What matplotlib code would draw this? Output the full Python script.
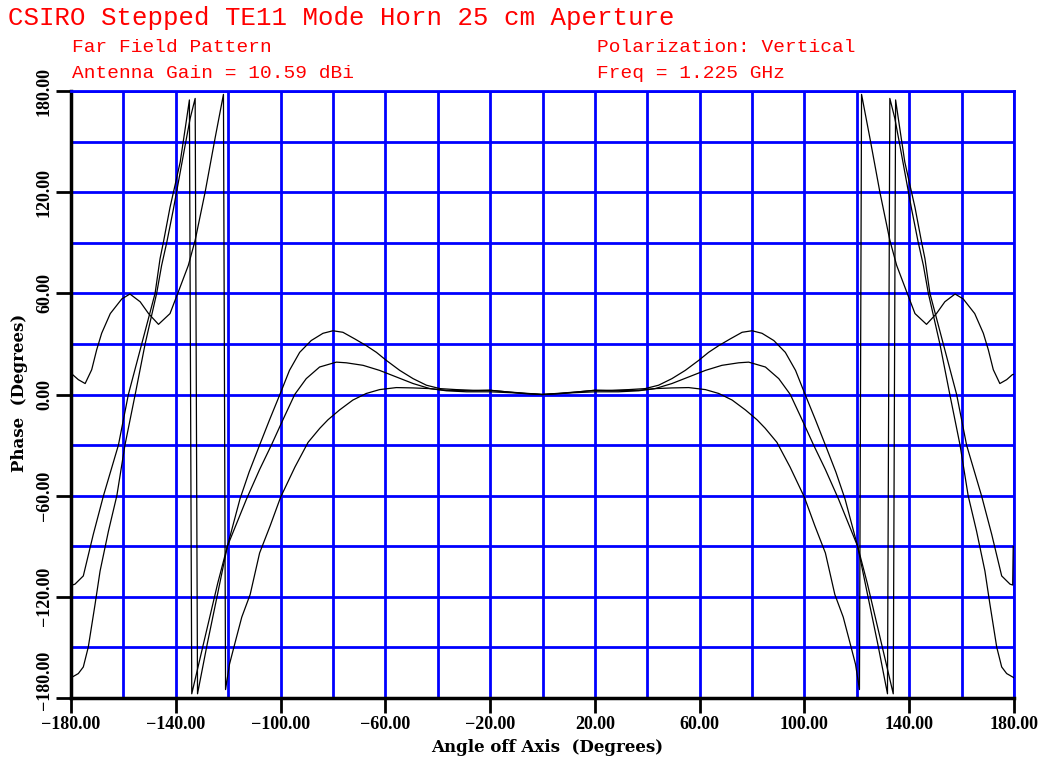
import matplotlib
matplotlib.use("Agg")
import matplotlib.pyplot as plt
import matplotlib.transforms as mtransforms

# Far field phase, three cuts (degrees off axis, phase in degrees)
a_deg = [-180, -177.2, -175.3, -173.4, -170.8, -168.9, -165.7, -162.5, -159.4, -155.5,
         -151.7, -147.3, -145.4, -143.4, -140.9, -139.0, -136.4, -134.5, -132.6, -131.7,
         -128.0, -124.0, -120.3, -115.5, -112.0, -108.0, -104.2, -100.0, -96.6, -92.7,
         -88.3, -83.8, -80.0, -76.2, -71.7, -67.3, -63.4, -59.6, -54.5, -49.4,
         -44.3, -39.2, -32.9, -26.5, -20.0, -13.8, -7.4, 0,
         7.4, 13.8, 20.0, 26.5, 32.9, 39.2, 44.3, 49.4, 54.5, 59.6,
         63.4, 67.3, 71.7, 76.2, 80.0, 83.8, 88.3, 92.7, 96.6, 100.0,
         104.2, 108.0, 112.0, 115.5, 120.3, 124.0, 128.0, 131.7, 132.6, 134.5,
         136.4, 139.0, 140.9, 143.4, 145.4, 147.3, 151.7, 155.5, 159.4, 162.5,
         165.7, 168.9, 170.8, 173.4, 175.3, 177.2, 180]
a_phase = [-168, -165.5, -161.6, -149.8, -124.3, -104.7, -81, -60, -30, 0,
           30, 60, 76.6, 90.5, 110, 126, 148, 163.8, 175.6, -177.5,
           -148, -118, -90, -62, -46, -30, -15, 1, 14.3, 25,
           32, 36.3, 37.8, 36.9, 33, 29, 25, 20.2, 14.3, 9.4,
           5.5, 3.5, 2.9, 2.5, 2.5, 1.6, 0.6, 0,
           0.6, 1.6, 2.5, 2.5, 2.9, 3.5, 5.5, 9.4, 14.3, 20.2,
           25, 29, 33, 36.9, 37.8, 36.3, 32, 25, 14.3, 1,
           -15, -30, -46, -62, -90, -118, -148, -177.5, 175.6, 163.8,
           148, 126, 110, 90.5, 76.6, 60, 30, 0, -30, -60,
           -81, -104.7, -124.3, -149.8, -161.6, -165.5, -168]

b_deg = [-180, -179.6, -179.5, -178.5, -175.3, -171.5, -167.6, -161.9, -158.1, -153.0,
         -147.9, -146.0, -144.7, -142.2, -140.3, -138.3, -136.4, -134.8, -133.9, -129.0,
         -124.0, -120.3, -113.0, -108.0, -103.5, -99.1, -94.6, -90.2, -85.1, -78.7,
         -74.9, -68.5, -62.2, -55.8, -49.4, -43.0, -36.7, -26.5, -20.0, -13.8, 0,
         13.8, 20.0, 26.5, 36.7, 43.0, 49.4, 55.8, 62.2, 68.5, 74.9,
         78.7, 85.1, 90.2, 94.6, 99.1, 103.5, 108.0, 113.0, 120.3, 124.0,
         129.0, 133.9, 134.8, 136.4, 138.3, 140.3, 142.2, 144.7, 146.0, 147.9,
         153.0, 158.1, 161.9, 167.6, 171.5, 175.3, 178.5, 179.5, 179.7]
b_phase = [0, -44, -113, -112.5, -107.6, -83, -60, -30, 0, 30,
           60, 80.6, 90.5, 111, 124, 138, 157.8, 174.7, -177.5, -145,
           -112, -90, -62, -44.5, -30, -15, 0, 9.4, 16.3, 19.2,
           18.8, 17.3, 14.3, 10.4, 6.5, 3.5, 2.5, 2.2, 2.5, 1.6, 0,
           1.6, 2.5, 2.2, 2.5, 3.5, 6.5, 10.4, 14.3, 17.3, 18.8,
           19.2, 16.3, 9.4, 0, -15, -30, -44.5, -62, -90, -112,
           -145, -177.5, 174.7, 157.8, 138, 124, 111, 90.5, 80.6, 60,
           30, 0, -30, -60, -83, -107.6, -112.5, -113, -90]

c_deg = [-180, -179.4, -177.2, -174.6, -172.1, -170.2, -168.3, -165.0, -160.6, -157.5,
         -153.6, -150.4, -146.6, -142.2, -139.0, -135.2, -132.6, -128.8, -125.0, -121.8,
         -121.0, -119.5, -117.0, -114.8, -111.6, -108.0, -104.0, -100.0, -94.5, -89.5,
         -85.0, -81.9, -77.5, -72.4, -67.3, -62.2, -55.8, -49.4, -43.0, -36.7,
         -29.0, -20.0, -11.2, 0,
         11.2, 20.0, 29.0, 36.7, 43.0, 49.4, 55.8, 62.2, 67.3, 72.4,
         77.5, 81.9, 85.0, 89.5, 94.5, 100.0, 104.0, 108.0, 111.6, 114.8,
         117.0, 119.5, 121.0, 121.8, 125.0, 128.8, 132.6, 135.2, 139.0, 142.2,
         146.6, 150.4, 153.6, 157.5, 160.6, 165.0, 168.3, 170.2, 172.1, 174.6,
         177.2, 179.4, 180]
c_phase = [12, 11.8, 8.8, 6.5, 14.7, 26.5, 36.3, 48, 56.7, 59.6,
           55, 48, 41.6, 48, 61, 76.6, 91.5, 120, 152, 178,
           -175, -160, -145, -132, -118.6, -94, -78, -61, -43, -28.4,
           -20, -15, -9.2, -3.3, 0.6, 2.9, 4.1, 3.9, 3.5, 2.2,
           1.6, 1.6, 1, 0,
           1, 1.6, 1.6, 2.2, 3.5, 3.9, 4.1, 2.9, 0.6, -3.3,
           -9.2, -15, -20, -28.4, -43, -61, -78, -94, -118.6, -132,
           -145, -160, -175, 178, 152, 120, 91.5, 76.6, 61, 48,
           41.6, 48, 55, 59.6, 56.7, 48, 36.3, 26.5, 14.7, 6.5,
           8.8, 11.8, 12]

x_grid = [-180, -160, -140, -120, -100, -80, -60, -40, -20, 0, 20, 40, 60, 80, 100, 120, 140, 160, 180]
y_grid = [-180, -150, -120, -90, -60, -30, 0, 30, 60, 90, 120, 150, 180]
x_ticks = [-180, -140, -100, -60, -20, 20, 60, 100, 140, 180]
x_labels = ['\u2212180.00', '\u2212140.00', '\u2212100.00', '\u221260.00', '\u221220.00',
            '20.00', '60.00', '100.00', '140.00', '180.00']
y_ticks = [-180, -120, -60, 0, 60, 120, 180]
y_labels = ['\u2212180.00', '\u2212120.00', '\u221260.00', '0.00', '60.00', '120.00', '180.00']

red = '#ff0000'
blue = '#0000ff'
mono = 'Liberation Mono'
serif = 'Liberation Serif'

fig = plt.figure(figsize=(10.52, 7.63), dpi=100)
ax = fig.add_axes([71/1052, 65/763, 943/1052, 607/763])

ax.plot(a_deg, a_phase, color='black', linewidth=0.9, zorder=3)
ax.plot(b_deg, b_phase, color='black', linewidth=0.9, zorder=3)
ax.plot(c_deg, c_phase, color='black', linewidth=0.9, zorder=3)

ax.set_xlim(-180, 180)
ax.set_ylim(-180, 180)

ax.set_xticks(x_grid, minor=True)
ax.set_yticks(y_grid, minor=True)
ax.set_xticks(x_ticks)
ax.set_yticks(y_ticks)
ax.set_xticklabels(x_labels, fontfamily=serif, fontweight='bold', fontsize=13)
ax.set_yticklabels(y_labels, fontfamily=serif, fontweight='bold', fontsize=13,
                   rotation=90, va='center')
ax.grid(which='both', color=blue, linewidth=2, zorder=1)
ax.set_axisbelow(True)
ax.tick_params(which='minor', length=0)
ax.tick_params(which='major', length=11, width=2, direction='out', color='black', pad=2)

# lift the bottom y label clear of the x labels
lab = ax.get_yticklabels()[0]
lab.set_transform(lab.get_transform() +
                  mtransforms.ScaledTranslation(0, 13/72, fig.dpi_scale_trans))

for side in ['left', 'bottom']:
    ax.spines[side].set_color('black')
    ax.spines[side].set_linewidth(2.5)
for side in ['top', 'right']:
    ax.spines[side].set_color(blue)
    ax.spines[side].set_linewidth(2)

fig.text(8/1052, 1 - 18/763, 'CSIRO Stepped TE11 Mode Horn 25 cm Aperture',
         color=red, fontsize=18.5, fontfamily=mono, va='center', ha='left')
fig.text(72/1052, 1 - 48/763, 'Far Field Pattern',
         color=red, fontsize=14, fontfamily=mono, va='center', ha='left')
fig.text(72/1052, 1 - 73/763, 'Antenna Gain = 10.59 dBi',
         color=red, fontsize=14, fontfamily=mono, va='center', ha='left')
fig.text(597/1052, 1 - 48/763, 'Polarization: Vertical',
         color=red, fontsize=14, fontfamily=mono, va='center', ha='left')
fig.text(597/1052, 1 - 73/763, 'Freq = 1.225 GHz',
         color=red, fontsize=14, fontfamily=mono, va='center', ha='left')

fig.text(547/1052, 1 - 748/763, 'Angle off Axis  (Degrees)',
         fontsize=12, fontfamily='DejaVu Serif', fontweight='bold', va='center', ha='center')
fig.text(20/1052, 1 - 393/763, 'Phase  (Degrees)',
         fontsize=12, fontfamily='DejaVu Serif', fontweight='bold', va='center', ha='center',
         rotation=90)

fig.savefig('out.png', dpi=100)
